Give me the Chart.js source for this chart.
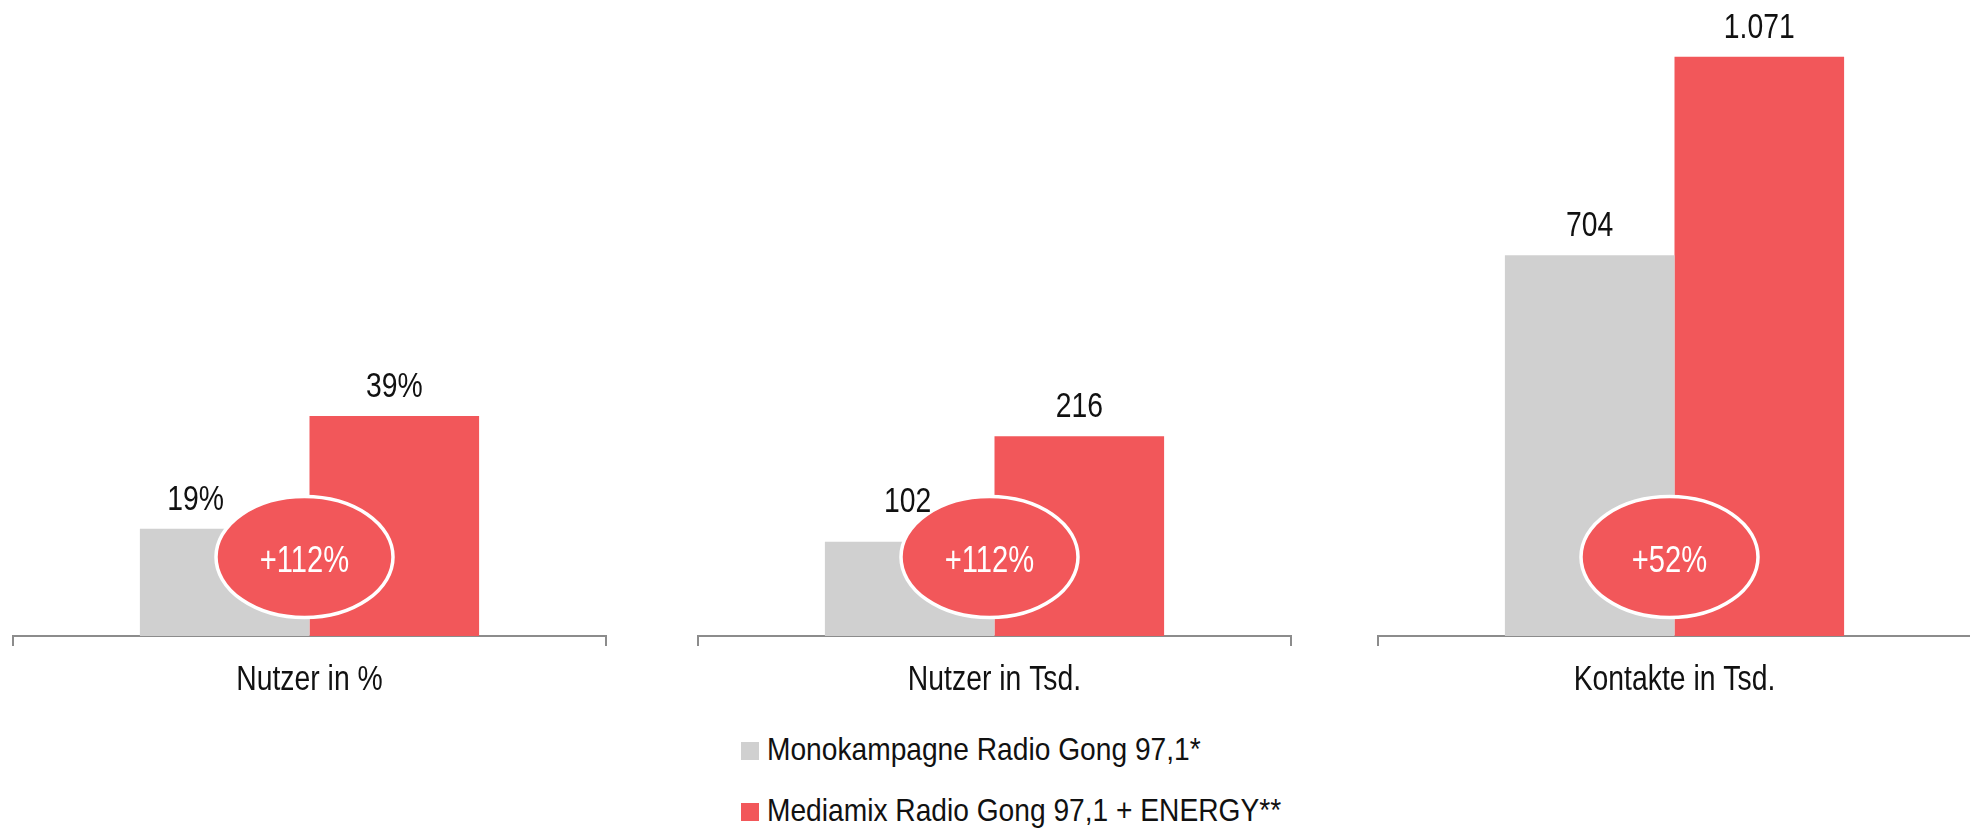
<!DOCTYPE html>
<html>
    <head>
        <title>Mediamix Radio Gong</title>
        <meta charset="utf-8" />
        <script src="https://cdn.jsdelivr.net/npm/chart.js@4.4.0/dist/chart.umd.min.js"></script>
        <style>
            * {
                margin: 0;
                padding: 0;
                box-sizing: border-box;
            }
            body {
                background-color: #ffffff;
                width: 1970px;
                height: 828px;
                overflow: hidden;
                position: relative;
                font-family: "Liberation Sans", Arial, sans-serif;
            }
            canvas {
                position: absolute;
                top: 0;
            }
            .legend-item {
                position: absolute;
                left: 741px;
                font-size: 32px;
                line-height: 32px;
                color: #111111;
                white-space: nowrap;
            }
            .legend-box {
                display: inline-block;
                width: 18px;
                height: 18px;
                margin-right: 8px;
            }
            .legend-text {
                display: inline-block;
                transform: scaleX(0.88);
                transform-origin: left center;
            }
        </style>
    </head>
    <body>

        <canvas id="chart0" width="597" height="716" style="left: 11px;"></canvas>
        <canvas id="chart1" width="597" height="716" style="left: 696px;"></canvas>
        <canvas id="chart2" width="597" height="716" style="left: 1376px;"></canvas>
        <div id="legend"></div>

        <script>
            // one small chart per category, each with its own scale
            const categories = ['Nutzer in %', 'Nutzer in Tsd.', 'Kontakte in Tsd.'];
            const seriesNames = ['Monokampagne Radio Gong 97,1*', 'Mediamix Radio Gong 97,1 + ENERGY**'];
            const monoValues = [19, 102, 704];
            const mixValues = [39, 216, 1071];
            const valueSuffix = ['%', '', ''];
            const growthLabels = ['+112%', '+112%', '+52%'];

            const GRAY = '#d0d0d0';
            const RED = '#f2575a';
            const AXIS = '#8c8c8c';
            const FONT = '"Liberation Sans", Arial, sans-serif';
            const NARROW = 0.81; // fake a condensed face

            // per panel look: scale top and nudges of the value labels
            const panels = [
                { yMax: 112.8, labelOffsets: [[-29, 0], [0, 0]] },
                { yMax: 688, labelOffsets: [[-2, -11], [0, 0]] },
                { yMax: 1176, labelOffsets: [[0, 0], [0, 0]] }
            ];

            const formatValue = (v, suffix) =>
                String(v).replace(/\B(?=(\d{3})+(?!\d))/g, '.') + suffix;

            function narrowText(ctx, text, x, y) {
                ctx.save();
                ctx.translate(x, y);
                ctx.scale(NARROW, 1);
                ctx.fillText(text, 0, 0);
                ctx.restore();
            }

            const overlayPlugin = {
                id: 'overlay',
                afterDraw(chart, args, opts) {
                    const ctx = chart.ctx;
                    const bars = [chart.getDatasetMeta(0).data[0], chart.getDatasetMeta(1).data[0]];
                    ctx.save();
                    ctx.textAlign = 'center';
                    ctx.textBaseline = 'alphabetic';

                    // category name under the axis
                    const xScale = chart.scales.x;
                    ctx.font = '35px ' + FONT;
                    ctx.fillStyle = '#111111';
                    narrowText(ctx, chart.data.labels[0], xScale.getPixelForTick(0), xScale.top + 54);

                    // growth bubble across the two bars
                    const cx = bars[0].x + bars[0].width / 2 - 5;
                    const cy = chart.chartArea.bottom - 79;
                    ctx.beginPath();
                    ctx.ellipse(cx, cy, 88.5, 60.5, 0, 0, Math.PI * 2);
                    ctx.fillStyle = RED;
                    ctx.fill();
                    ctx.lineWidth = 3.5;
                    ctx.strokeStyle = '#ffffff';
                    ctx.stroke();

                    ctx.font = '36px ' + FONT;
                    ctx.fillStyle = '#ffffff';
                    narrowText(ctx, opts.growth, cx, cy + 14.5);

                    // value labels above bars
                    ctx.font = '35px ' + FONT;
                    ctx.fillStyle = '#111111';
                    bars.forEach((bar, i) => {
                        const off = opts.labelOffsets[i];
                        narrowText(ctx, opts.labels[i], bar.x + off[0], bar.y - 19 + off[1]);
                    });
                    ctx.restore();
                }
            };

            categories.forEach((cat, i) => {
                new Chart(document.getElementById('chart' + i), {
                    type: 'bar',
                    data: {
                        labels: [cat],
                        datasets: [
                            {
                                label: seriesNames[0],
                                data: [monoValues[i]],
                                backgroundColor: GRAY,
                                barPercentage: 1,
                                categoryPercentage: 0.572
                            },
                            {
                                label: seriesNames[1],
                                data: [mixValues[i]],
                                backgroundColor: RED,
                                barPercentage: 1,
                                categoryPercentage: 0.572
                            }
                        ]
                    },
                    options: {
                        responsive: false,
                        animation: false,
                        devicePixelRatio: 1,
                        layout: { padding: { left: 2, right: 2, top: 0, bottom: 0 } },
                        plugins: {
                            legend: { display: false },
                            tooltip: { enabled: false },
                            overlay: {
                                growth: growthLabels[i],
                                labels: [
                                    formatValue(monoValues[i], valueSuffix[i]),
                                    formatValue(mixValues[i], valueSuffix[i])
                                ],
                                labelOffsets: panels[i].labelOffsets
                            }
                        },
                        scales: {
                            x: {
                                afterFit: (scale) => { scale.height = 80; },
                                grid: {
                                    display: true,
                                    offset: true,
                                    drawOnChartArea: false,
                                    drawTicks: true,
                                    tickLength: 10,
                                    color: AXIS,
                                    lineWidth: 2
                                },
                                border: { display: true, color: AXIS, width: 2 },
                                ticks: { display: false }
                            },
                            y: {
                                display: false,
                                min: 0,
                                max: panels[i].yMax
                            }
                        }
                    },
                    plugins: [overlayPlugin]
                });
            });

            // legend below the panels, stacked
            const legend = document.getElementById('legend');
            [GRAY, RED].forEach((color, i) => {
                const item = document.createElement('div');
                item.className = 'legend-item';
                item.style.top = (733 + i * 61) + 'px';
                item.innerHTML = '<span class="legend-box" style="background:' + color + '"></span>' +
                    '<span class="legend-text">' + seriesNames[i] + '</span>';
                legend.appendChild(item);
            });
        </script>
    </body>
</html>
